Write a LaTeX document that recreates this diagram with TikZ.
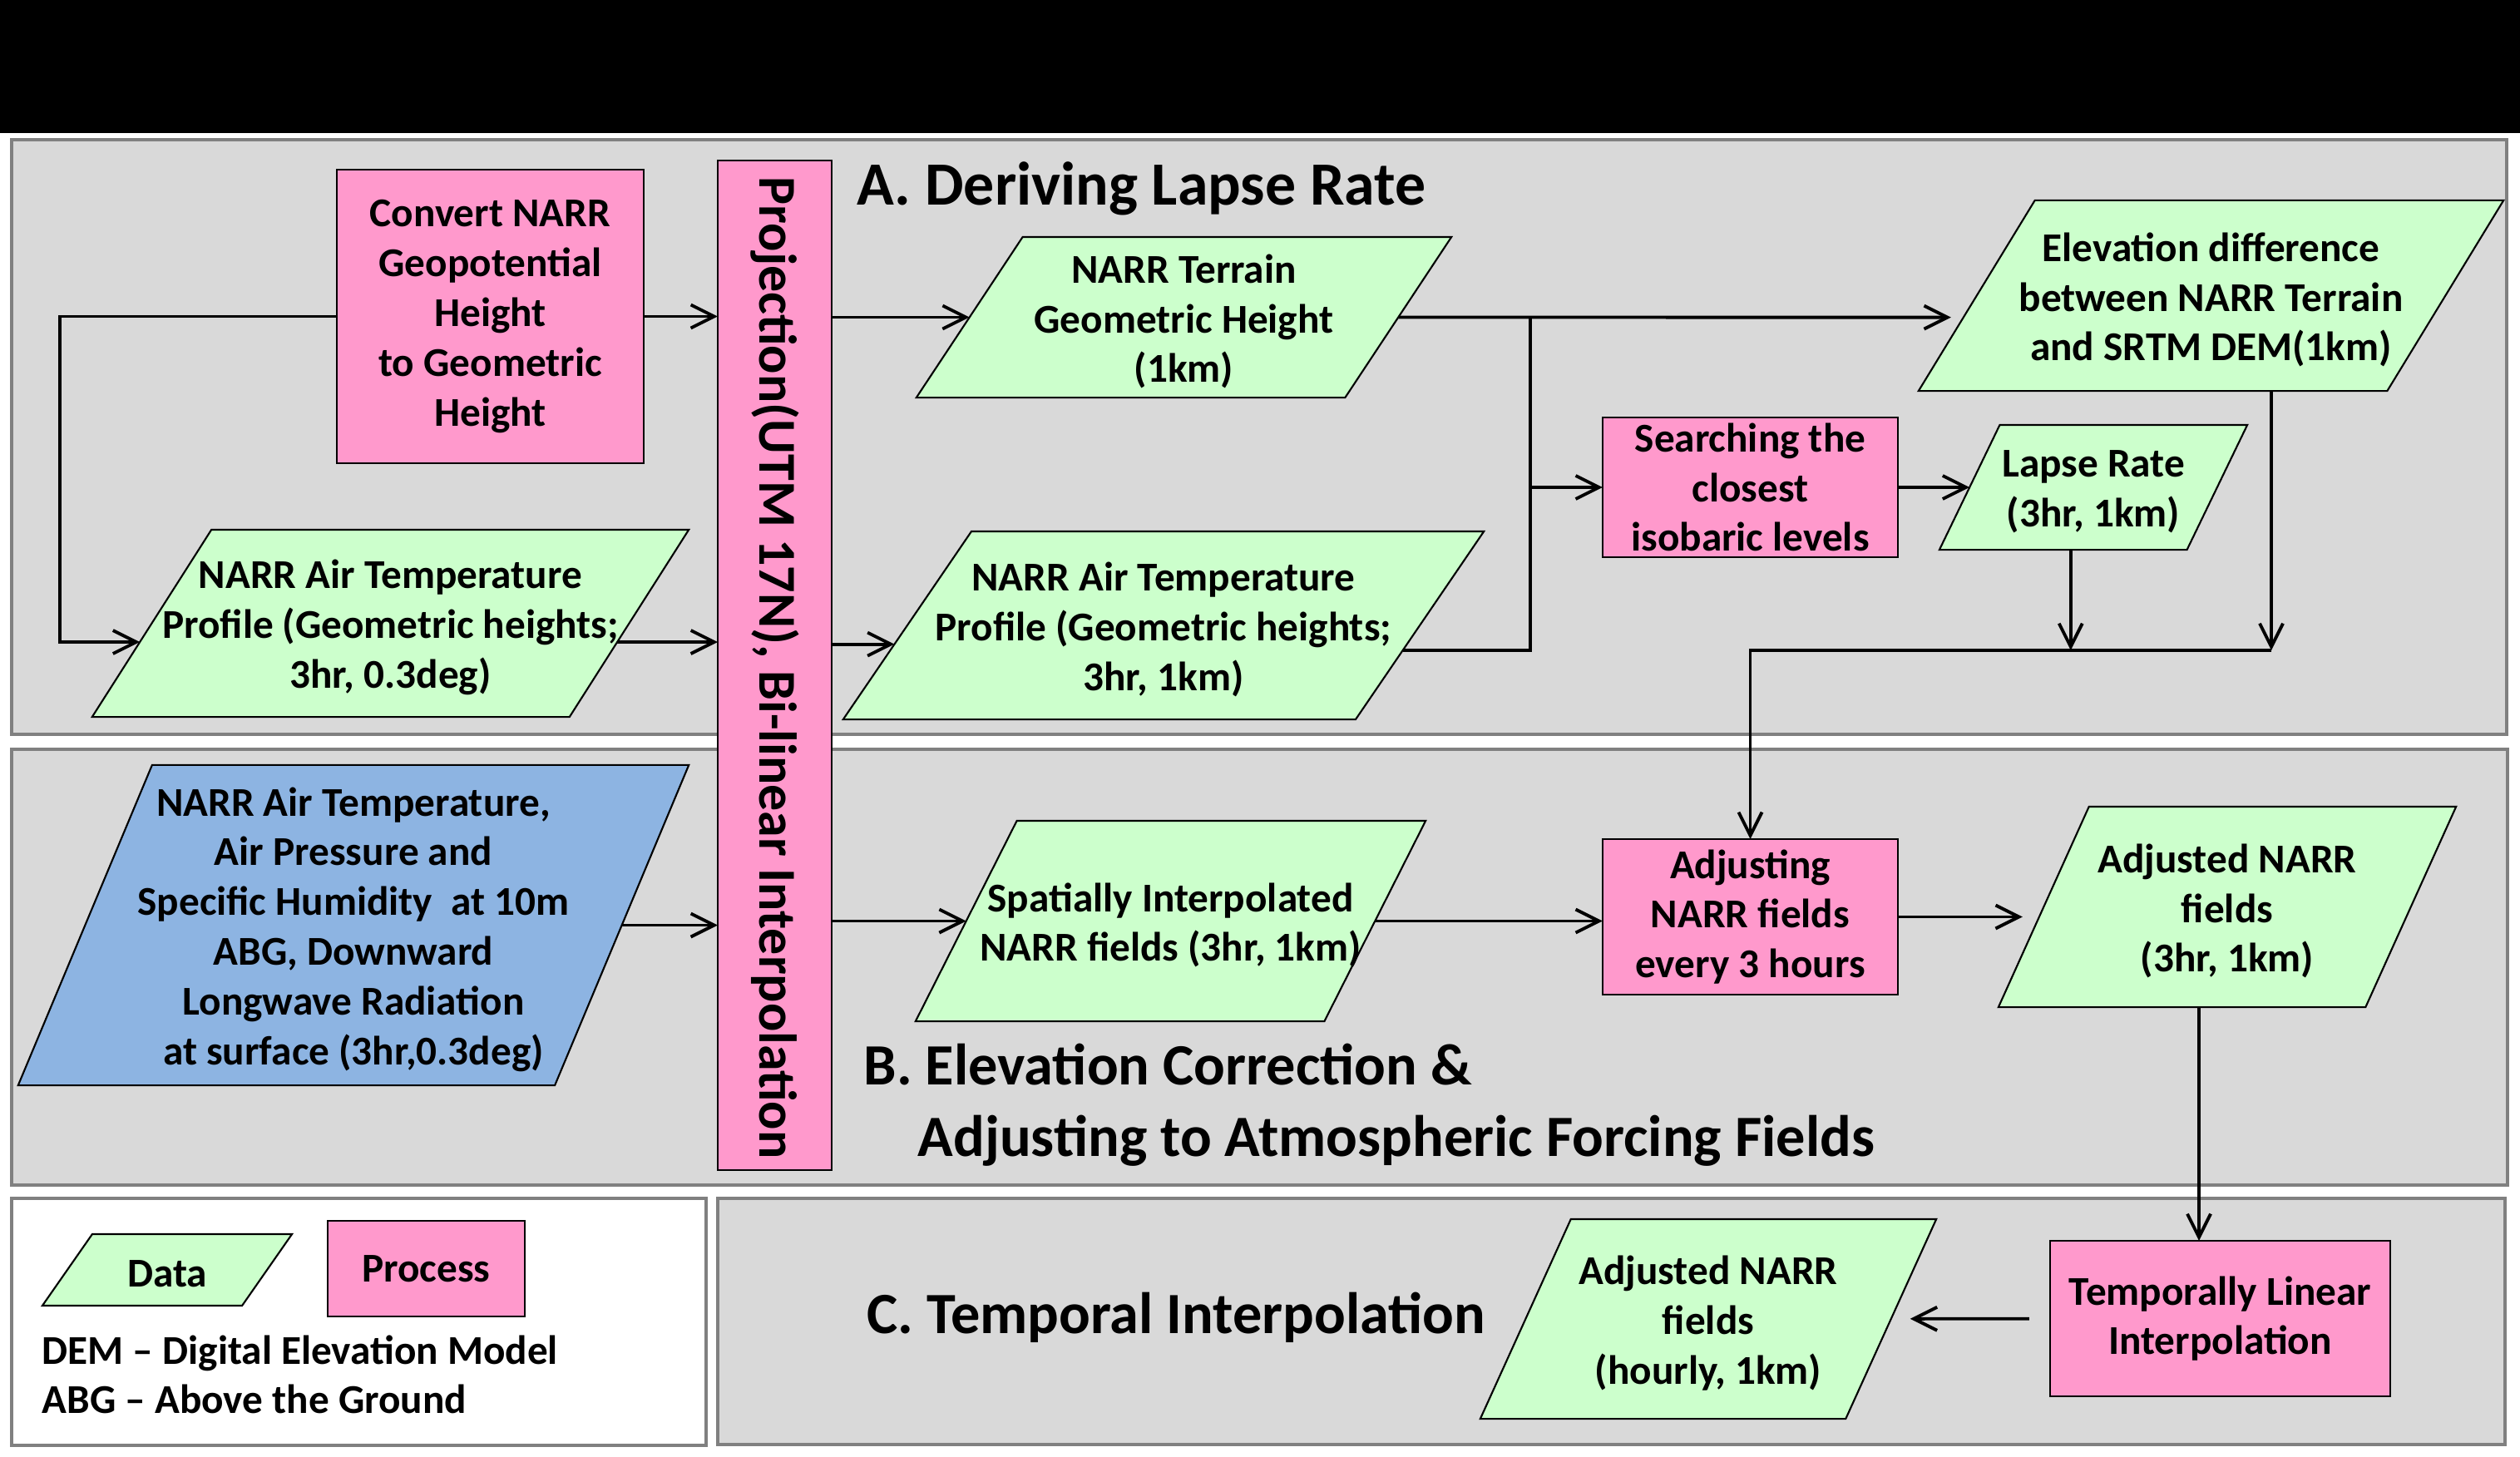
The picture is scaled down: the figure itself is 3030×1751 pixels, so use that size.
\documentclass[tikz,border=0pt]{standalone}
\usepackage{fontspec}
\setmainfont{Carlito}
\usetikzlibrary{arrows.meta,shapes.geometric,calc}
\definecolor{panelgray}{RGB}{217,217,217}
\definecolor{panelline}{RGB}{128,128,128}
\definecolor{procpink}{RGB}{255,153,204}
\definecolor{datagreen}{RGB}{204,255,204}
\definecolor{inblue}{RGB}{141,180,226}

\begin{document}
\begin{tikzpicture}[x=0.01cm,y=-0.01cm,
		font=\fontsize{14}{17}\selectfont\bfseries,
		panel/.style={draw=panelline,line width=1.2pt,fill=panelgray},
		process/.style={draw,line width=0.6pt,fill=procpink,align=center,inner sep=0pt,outer sep=0pt},
		data/.style 2 args={trapezium,trapezium left angle=#1,trapezium right angle=180-#1,trapezium stretches body,
			text height=#2,text depth=#2,draw,line width=0.6pt,fill=datagreen,inner sep=0pt,outer sep=0pt},
		txt/.style={align=center,inner sep=0pt,yshift=-0.5mm},
		title/.style={font=\fontsize{20}{24}\selectfont\bfseries,anchor=base west,inner sep=0pt},
		link/.style={line width=1.1pt},
		flow/.style={link,-{Straight Barb[length=2.8mm,width=2.8mm]}}]
	\useasboundingbox (0,0) rectangle (3030,1751);
	\fill[white] (0,0) rectangle (3030,1751);
	\fill[black] (0,0) rectangle (3030,160);
	\draw[panel] (14,168) rectangle (3014,883);
	\draw[panel] (14,901) rectangle (3015,1425);
	\draw[panel,fill=white] (14,1441) rectangle (849,1738);
	\draw[panel] (863,1441) rectangle (3012,1737);

	\node[process,minimum width=1.37cm,minimum height=12.14cm] (bar) at (931.5,800) {};
	\node[rotate=-90,font=\fontsize{18.2}{22}\selectfont\bfseries] (bar-t) at (931.5,803) {Projection(UTM 17N), Bi-linear Interpolation};

	\node[process,minimum width=3.69cm,minimum height=3.53cm] (C) at (589.5,380.5) {Convert NARR\\Geopotential\\Height\\ to Geometric\\Height};
	\node[process,minimum width=3.55cm,minimum height=1.68cm] (S) at (2104.5,586) {Searching the\\closest\\isobaric levels};
	\node[process,minimum width=3.55cm,minimum height=1.87cm] (AD) at (2104.5,1102.5) {Adjusting\\NARR fields\\every 3 hours};
	\node[process,minimum width=4.09cm,minimum height=1.87cm] (TL) at (2669.5,1585.5) {Temporally Linear\\Interpolation};

	\node[data={56.5}{0.965cm},minimum width=6.43cm,label={[txt]center:{NARR Terrain\\Geometric Height\\(1km)}}] (T) at (1423.5,381.5) {};
	\node[data={57.5}{1.125cm},minimum width=7.17cm,label={[txt]center:{NARR Air Temperature\\Profile (Geometric heights;\\3hr, 0.3deg)}}] (A1) at (469.5,749.5) {};
	\node[data={55.7}{1.13cm},minimum width=7.70cm,label={[txt]center:{NARR Air Temperature\\Profile (Geometric heights;\\3hr, 1km)}}] (A2) at (1399,752) {};
	\node[data={58.6}{1.145cm},minimum width=7.03cm,label={[txt]center:{Elevation difference\\between NARR Terrain\\and SRTM DEM(1km)}}] (E) at (2658.5,355.5) {};
	\node[data={64.2}{0.75cm},minimum width=3.70cm,label={[txt]center:{Lapse Rate\\(3hr, 1km)}}] (L) at (2517,586) {};
	\node[data={67.3}{1.925cm},fill=inblue,minimum width=8.06cm,label={[txt]center:{NARR Air Temperature,\\Air Pressure and\\Specific Humidity~~at 10m\\ABG, Downward\\Longwave Radiation\\at surface (3hr,0.3deg)}}] (N) at (425,1112.5) {};
	\node[data={63.2}{1.205cm},minimum width=6.13cm,label={[txt]center:{Spatially Interpolated\\NARR fields (3hr, 1km)}}] (SI) at (1407.5,1107.5) {};
	\node[data={65.7}{1.205cm},minimum width=5.50cm,label={[txt]center:{Adjusted NARR\\fields\\(3hr, 1km)}}] (AN) at (2678,1090.5) {};
	\node[data={65.6}{1.2cm},minimum width=5.48cm,label={[txt]center:{Adjusted NARR\\fields\\(hourly, 1km)}}] (AH) at (2054,1586) {};

	\node[data={55.1}{0.43cm},minimum width=3cm,label={[txt]center:Data}] (lg-d) at (201,1527) {};
	\node[process,minimum width=2.37cm,minimum height=1.15cm] (lg-p) at (512.5,1525.5) {Process};
	\node[anchor=base west,inner sep=0pt] (dem) at (50,1640) {DEM -- Digital Elevation Model};
	\node[anchor=base west,inner sep=0pt] (abg) at (50,1699) {ABG -- Above the Ground};

	\node[title,font=\fontsize{21}{25}\selectfont\bfseries] (ttl-a) at (1030,246) {A. Deriving Lapse Rate};
	\node[title] (ttl-b1) at (1038,1304) {B. Elevation Correction \&};
	\node[title] (ttl-b2) at (1103,1390) {Adjusting to Atmospheric Forcing Fields};
	\node[title] (ttl-c) at (1042,1603) {C. Temporal Interpolation};

	\coordinate (lp) at (72,0);
	\coordinate (jx) at (1840,0);
	\coordinate (bus) at (2731,782);
	\coordinate (a1-in) at ($(A1.bottom left corner)!.4!(A1.top left corner)$);
	\coordinate (a1-out) at ($(A1.bottom right corner)!.4!(A1.top right corner)$);
	\coordinate (a2-in) at ($(A2.bottom left corner)!.4!(A2.top left corner)$);
	\coordinate (a2-out) at ($(A2.bottom right corner)!.367!(A2.top right corner)$);
	\coordinate (e-in) at ($(E.bottom left corner)!.386!(E.top left corner)$);
	\coordinate (an-in) at ($(AN.bottom left corner)!.45!(AN.top left corner)$);

	\draw[flow] (C.west) -| (lp |- a1-in) -- (a1-in);
	\draw[flow] (C.east) -- (C.east -| bar.west);
	\draw[flow] (a1-out) -- (a1-out -| bar.west);
	\draw[flow] (bar.east |- T.west) -- (T.west);
	\draw[flow] (bar.east |- a2-in) -- (a2-in);
	\draw[flow,shorten >=1.5mm] (T.east) -- (e-in);
	\draw[link] (a2-out) -| (jx |- T.east);
	\draw[flow] (jx |- S.west) -- (S.west);
	\draw[flow] (S.east) -- (L.west);
	\draw[flow] ([xshift=0.9mm]L.bottom side) -- ([xshift=0.9mm]L.bottom side |- bus);
	\draw[flow] (E.bottom side -| bus) -- (bus);
	\draw[flow] (bus) -| (AD.north);
	\draw[flow] (N.east) -- (N.east -| bar.west);
	\draw[flow] (bar.east |- SI.west) -- (SI.west);
	\draw[flow] (SI.east) -- (SI.east -| AD.west);
	\draw[flow,shorten >=2mm] (AD.east) -- (AD.east -| an-in);
	\draw[flow] ([xshift=-2.55mm]TL.north |- AN.bottom side) -- ([xshift=-2.55mm]TL.north);
	\draw[flow,shorten <=2.5mm,shorten >=2.3mm] (TL) -- (AH);
\end{tikzpicture}
\end{document}
